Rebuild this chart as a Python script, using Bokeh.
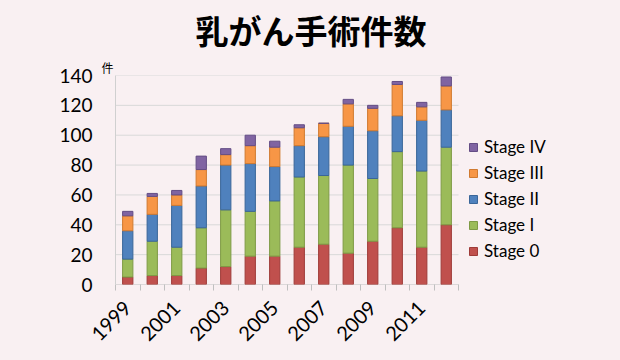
import math
from bokeh.plotting import figure
from bokeh.models import Range1d, FixedTicker, Legend, LegendItem, Title
from bokeh.embed import file_html
from bokeh.resources import INLINE

years = [1999, 2000, 2001, 2002, 2003, 2004, 2005, 2006, 2007, 2008, 2009, 2010, 2011, 2012]
stage0 = [5, 6, 6, 11, 12, 19, 19, 25, 27, 21, 29, 38, 25, 40]
stage1 = [12, 23, 19, 27, 38, 30, 37, 47, 46, 59, 42, 51, 51, 52]
stage2 = [19, 18, 28, 28, 30, 32, 23, 21, 26, 26, 32, 24, 34, 25]
stage3 = [10, 12, 7, 11, 7, 12, 13, 12, 9, 15, 15, 21, 9, 16]
stage4 = [3, 2, 3, 9, 4, 7, 4, 2, 0, 3, 2, 2, 3, 6]
stage_names = ["Stage 0", "Stage I", "Stage II", "Stage III", "Stage IV"]
tick_years = [1999, 2001, 2003, 2005, 2007, 2009, 2011]
y_ticks = [0, 20, 40, 60, 80, 100, 120, 140]

fills = ["#C0504D", "#9BBB59", "#4F81BD", "#F79646", "#8064A2"]
lines = ["#9E3B38", "#7E9A45", "#3A6699", "#D07A30", "#644D85"]
BG = "#F9F0F2"
FONT = "Lato"

x_lo = years[0] - 0.5
x_hi = years[-1] + 0.5
cat_px = 24.5
W, H = 612, 352
left, top, bottom = 115, 74, 68
x_end = x_lo + (W - left) / cat_px

p = figure(width=W, height=H, output_backend="svg", toolbar_location=None,
           x_range=Range1d(x_lo, x_end), y_range=Range1d(0, 140),
           min_border_left=left, min_border_right=0, min_border_top=top, min_border_bottom=bottom,
           background_fill_color=BG, border_fill_color=BG, outline_line_color=None)

p.title = Title(text="乳がん手術件数", align="left", offset=80, text_font="Noto Sans CJK JP",
                text_font_size="33px", text_font_style="bold", text_color="#000000",
                text_line_height=1.0, standoff=6)

unit = Title(text="件", align="left", offset=-14, text_font="Noto Sans CJK JP",
             text_font_size="12px", text_font_style="normal", text_color="#000000",
             text_line_height=1.0, standoff=0)
p.add_layout(unit, "above")

# gridlines limited to the plotting region of the bars
p.xgrid.grid_line_color = None
p.ygrid.grid_line_color = None
grid_y = [v for v in y_ticks if v > 0]
p.segment(x0=[x_lo] * len(grid_y), x1=[x_hi] * len(grid_y), y0=grid_y, y1=grid_y,
          line_color="#D9D9D9", line_width=1)
p.segment(x0=[x_lo], x1=[x_hi], y0=[0], y1=[0], line_color="#BFBFBF", line_width=1)

data = {"year": years}
for name, vals in zip(stage_names, [stage0, stage1, stage2, stage3, stage4]):
    data[name] = vals

rs = p.vbar_stack(stage_names, x="year", width=0.42, source=data,
                  fill_color=fills, line_color=lines, line_width=1)

# axes
p.xaxis.ticker = FixedTicker(ticks=tick_years, minor_ticks=[y - 0.5 for y in years] + [x_hi])
p.xaxis.major_tick_line_color = None
p.xaxis.minor_tick_line_color = "#BFBFBF"
p.xaxis.minor_tick_out = 6
p.xaxis.minor_tick_in = 0
p.xaxis.axis_line_color = None
p.xaxis.major_label_orientation = math.pi / 4
p.xaxis.major_label_text_font = FONT
p.xaxis.major_label_text_font_size = "20px"
p.xaxis.major_label_text_color = "#000000"
p.xaxis.major_label_standoff = 14

p.yaxis.ticker = FixedTicker(ticks=y_ticks)
p.yaxis.major_tick_line_color = None
p.yaxis.minor_tick_line_color = None
p.yaxis.axis_line_color = "#D0D0D0"
p.yaxis.major_label_text_font = FONT
p.yaxis.major_label_text_font_size = "19px"
p.yaxis.major_label_text_color = "#000000"
p.yaxis.major_label_standoff = 17

items = [LegendItem(label=n, renderers=[r]) for n, r in zip(stage_names, rs)]
items.reverse()
legend = Legend(items=items, location=(353, 23), background_fill_alpha=0,
                border_line_color=None, label_text_font=FONT, label_text_font_size="17px",
                label_text_color="#000000", glyph_width=10, glyph_height=10,
                spacing=5, padding=0, margin=0, label_standoff=6)
p.add_layout(legend)

html = file_html(p, INLINE)
html = html.replace("<head>", "<head><style>body{background:%s;}</style>" % BG, 1)
open("out.html", "w").write(html)
